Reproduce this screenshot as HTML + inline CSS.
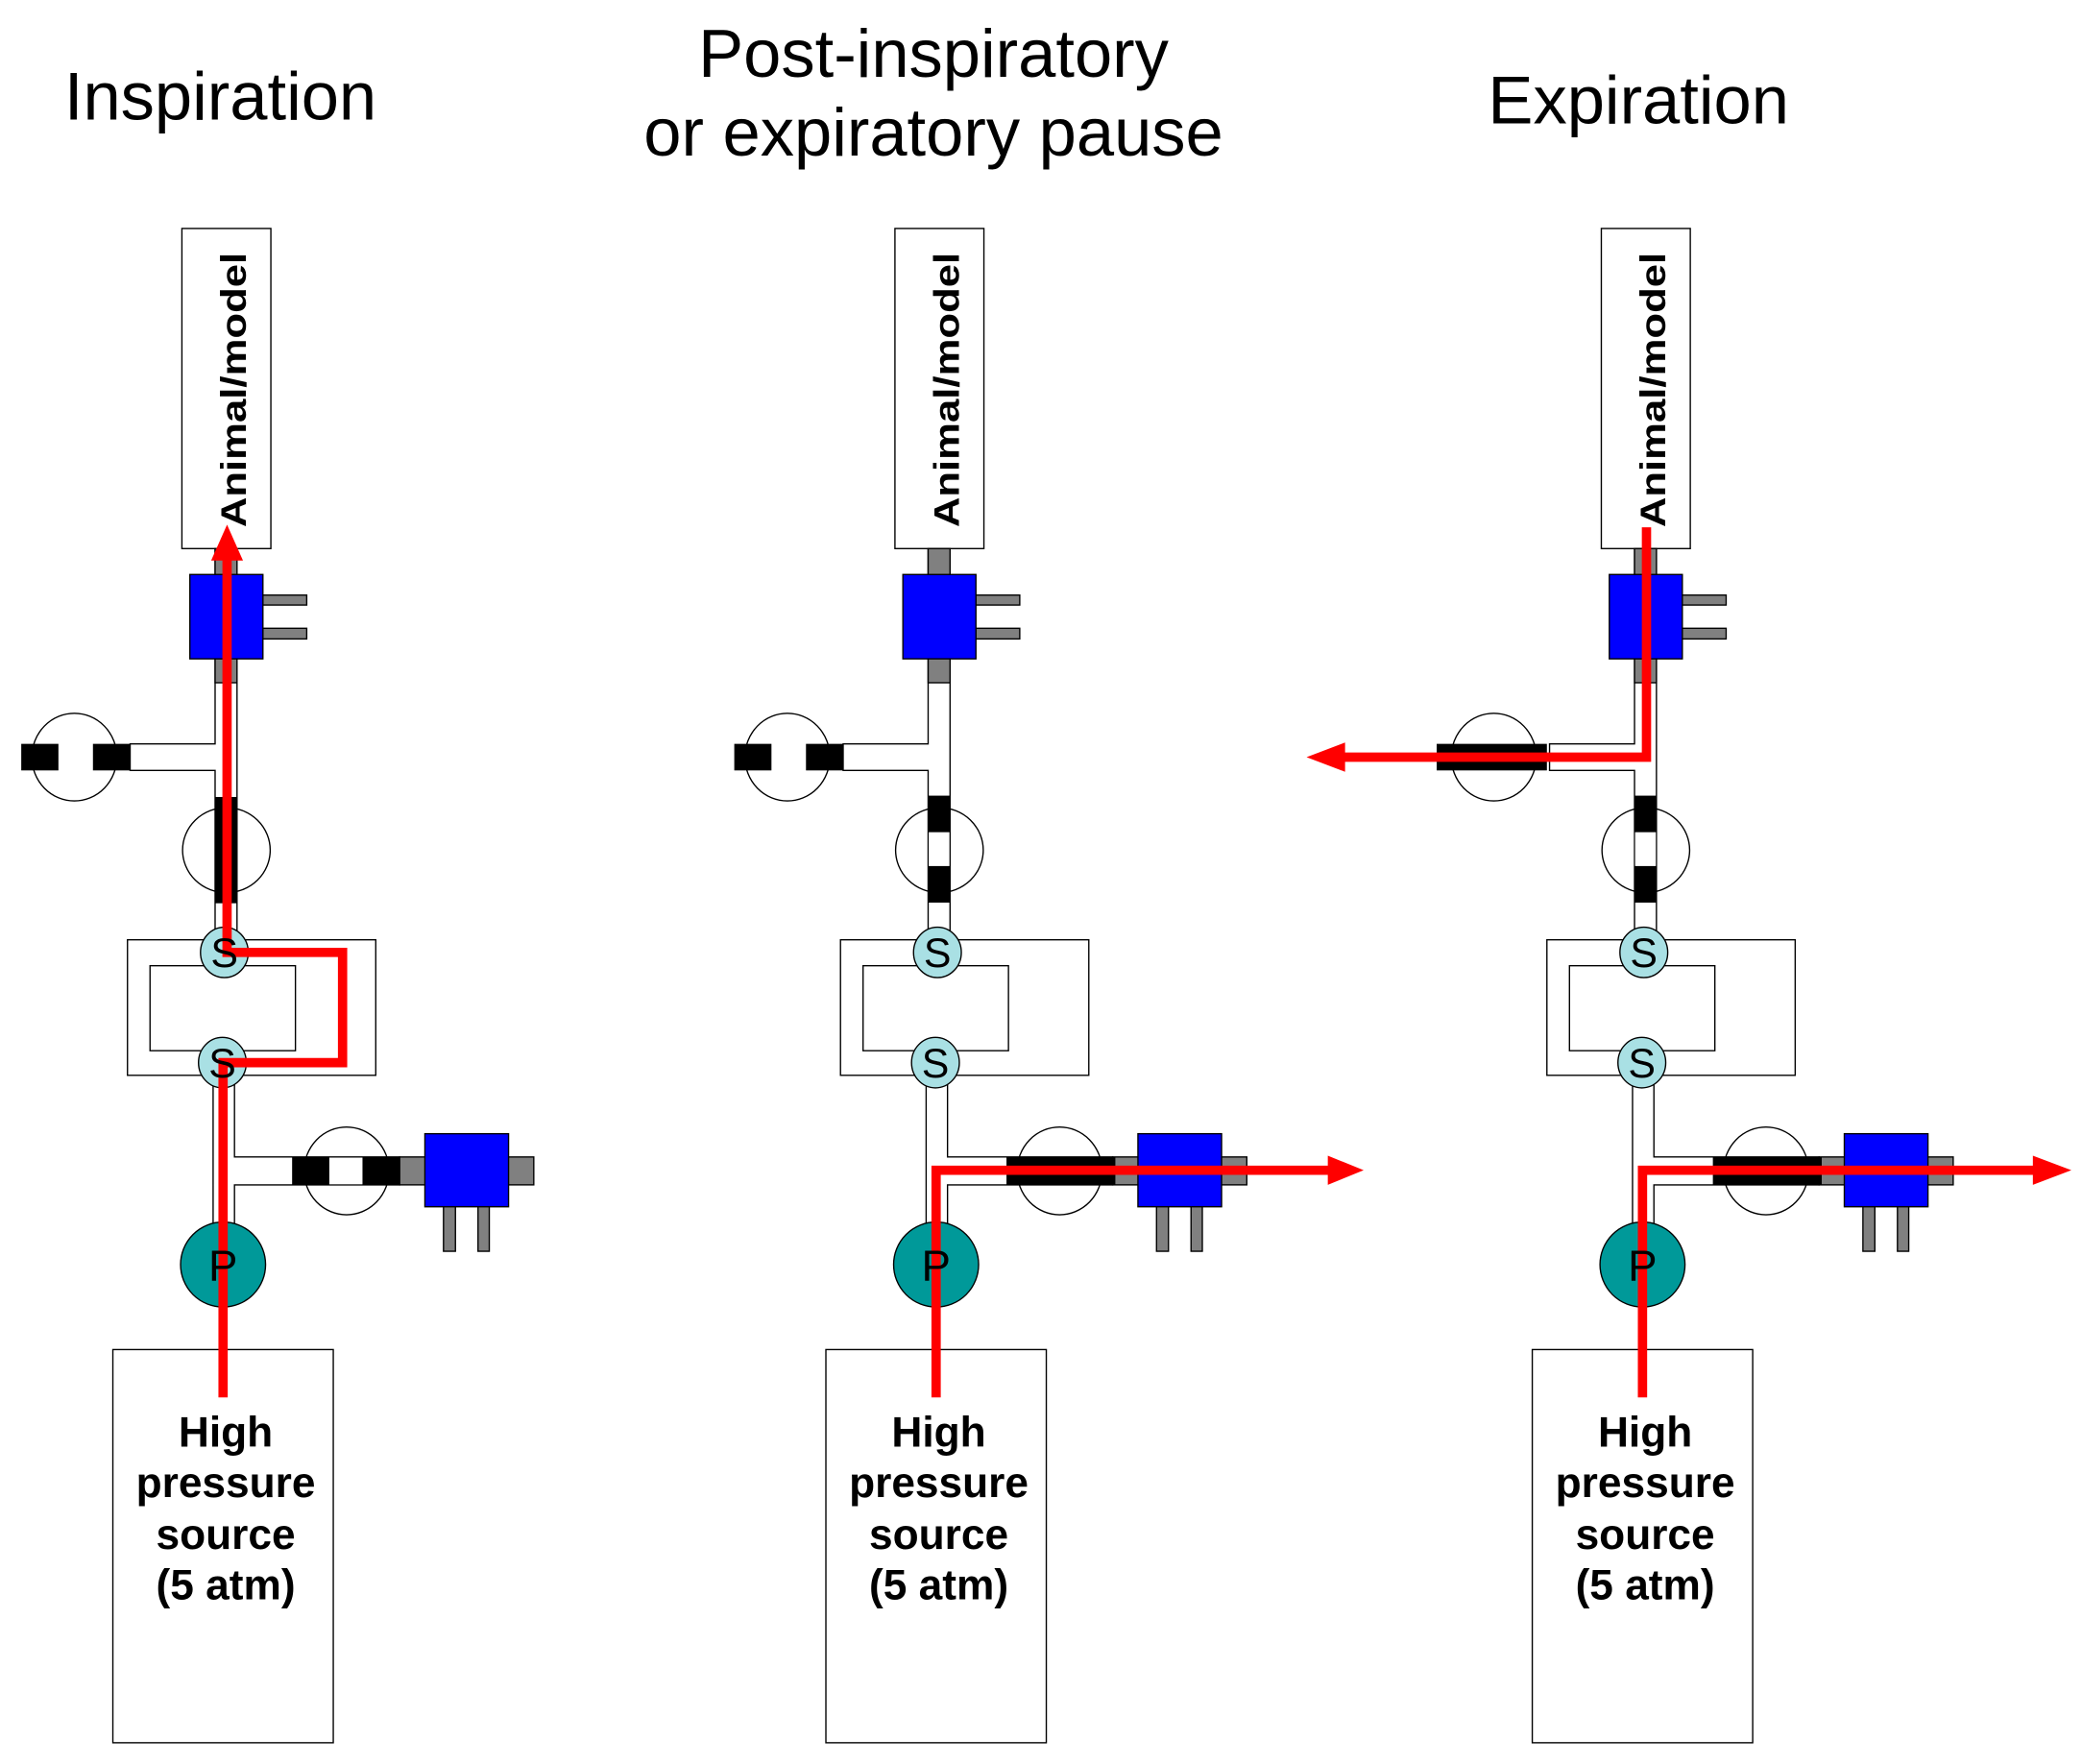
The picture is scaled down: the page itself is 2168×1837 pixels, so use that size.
<!DOCTYPE html>
<html><head><meta charset="utf-8"><style>html,body{margin:0;padding:0;background:#fff}svg{display:block}</style></head>
<body>
<svg width="2168" height="1837" viewBox="0 0 1568 1328" preserveAspectRatio="none" xmlns="http://www.w3.org/2000/svg" font-family="Liberation Sans, Arial, sans-serif">
<defs>
<g id="base" stroke="#000" stroke-width="1">
  <rect x="137" y="172" width="67" height="241" fill="#fff"/>
  <rect x="85" y="1016" width="166" height="296" fill="#fff"/>
  <ellipse cx="56" cy="570" rx="32" ry="33" fill="none"/>
  <ellipse cx="170.5" cy="640" rx="33" ry="32" fill="none"/>
  <ellipse cx="261" cy="881.5" rx="32" ry="33" fill="none"/>
  <path d="M162,413 L162,560 L98,560 L98,580 L162,580 L162,708 L178.5,708 L178.5,413 Z" fill="#fff"/>
  <path d="M96,707.5 H283 V809.5 H96 Z M113,727 V791 H222.5 V727 Z" fill="#fff" fill-rule="evenodd"/>
  <path d="M160.5,809 L160.5,930 L176.6,930 L176.6,892 L301,892 L301,871 L176.6,871 L176.6,809 Z" fill="#fff"/>
  <rect x="162" y="413" width="16.5" height="101" fill="#808080"/>
  <rect x="198" y="448" width="33" height="7.5" fill="#808080"/>
  <rect x="198" y="473" width="33" height="8" fill="#808080"/>
  <rect x="301" y="871" width="101" height="21" fill="#808080"/>
  <rect x="334" y="905" width="9" height="37" fill="#808080"/>
  <rect x="360" y="905" width="8.5" height="37" fill="#808080"/>
  <rect x="143" y="432.5" width="55" height="63.5" fill="#0000ff"/>
  <rect x="320" y="853.5" width="63" height="55" fill="#0000ff"/>
  <ellipse cx="169" cy="717" rx="18" ry="19" fill="#a9e0e4"/>
  <ellipse cx="167.5" cy="800" rx="18" ry="19" fill="#a9e0e4"/>
  <circle cx="168" cy="952" r="32" fill="#009999"/>
</g>
<g id="labels" font-size="31" fill="#000">
  <text x="169" y="728" text-anchor="middle">S</text>
  <text x="167.5" y="811" text-anchor="middle">S</text>
  <text x="168" y="964" text-anchor="middle" font-size="33">P</text>
</g>
</defs>

<text x="166" y="90" font-size="51" text-anchor="middle">Inspiration</text>
<text x="703" y="58" font-size="51" text-anchor="middle">Post-inspiratory</text>
<text x="703" y="117" font-size="51" text-anchor="middle">or expiratory pause</text>
<text x="1234" y="93" font-size="51" text-anchor="middle">Expiration</text>

<!-- Panel 1 -->
<g>
  <use href="#base"/>
  <rect x="44" y="560.5" width="26" height="19" fill="#fff"/>
  <rect x="16" y="560" width="28" height="20" fill="#000"/>
  <rect x="70" y="560" width="28" height="20" fill="#000"/>
  <rect x="162" y="600" width="16.5" height="80" fill="#000"/>
  <rect x="248" y="871.5" width="25" height="20" fill="#fff"/>
  <rect x="220" y="871" width="28" height="21" fill="#000"/>
  <rect x="273" y="871" width="28" height="21" fill="#000"/>
</g>

<!-- Panel 2 -->
<g transform="translate(537,0)">
  <use href="#base"/>
  <rect x="44" y="560.5" width="26" height="19" fill="#fff"/>
  <rect x="16" y="560" width="28" height="20" fill="#000"/>
  <rect x="70" y="560" width="28" height="20" fill="#000"/>
  <rect x="162.5" y="626" width="15.5" height="26" fill="#fff"/>
  <rect x="162" y="599" width="16.5" height="27.5" fill="#000"/>
  <rect x="162" y="652" width="16.5" height="27.5" fill="#000"/>
  <rect x="221" y="871" width="82" height="21" fill="#000"/>
</g>

<!-- Panel 3 -->
<g transform="translate(1069,0)">
  <use href="#base"/>
  <rect x="13" y="560" width="83" height="20" fill="#000"/>
  <rect x="162.5" y="626" width="15.5" height="26" fill="#fff"/>
  <rect x="162" y="599" width="16.5" height="27.5" fill="#000"/>
  <rect x="162" y="652" width="16.5" height="27.5" fill="#000"/>
  <rect x="221" y="871" width="82" height="21" fill="#000"/>
</g>

<g fill="none" stroke="#ff0000" stroke-width="7">
  <path d="M168,1052 V800 H258 V717 H171 V418"/>
  <path d="M705,1052 V881 H1002"/>
  <path d="M1237,1052 V881 H1535"/>
  <path d="M1240,397 V570 H1010"/>
</g>
<g fill="#ff0000">
  <polygon points="171,395 159,422 183,422"/>
  <polygon points="1027,881 1000,870 1000,892"/>
  <polygon points="1560,881 1531,870 1531,892"/>
  <polygon points="984,570 1013,559 1013,581"/>
</g>

<use href="#labels"/>
<use href="#labels" transform="translate(537,0)"/>
<use href="#labels" transform="translate(1069,0)"/>

<g font-size="27" font-weight="bold" fill="#000">
  <text transform="translate(185,397) rotate(-90)" textLength="207" lengthAdjust="spacingAndGlyphs">Animal/model</text>
  <text transform="translate(722,397) rotate(-90)" textLength="207" lengthAdjust="spacingAndGlyphs">Animal/model</text>
  <text transform="translate(1254,397) rotate(-90)" textLength="207" lengthAdjust="spacingAndGlyphs">Animal/model</text>
</g>

<g font-size="32" font-weight="bold" fill="#000" text-anchor="middle">
  <text x="170" y="1089">High</text><text x="170" y="1127">pressure</text><text x="170" y="1166">source</text><text x="170" y="1204">(5 atm)</text>
  <text x="707" y="1089">High</text><text x="707" y="1127">pressure</text><text x="707" y="1166">source</text><text x="707" y="1204">(5 atm)</text>
  <text x="1239" y="1089">High</text><text x="1239" y="1127">pressure</text><text x="1239" y="1166">source</text><text x="1239" y="1204">(5 atm)</text>
</g>
</svg>
</body></html>
